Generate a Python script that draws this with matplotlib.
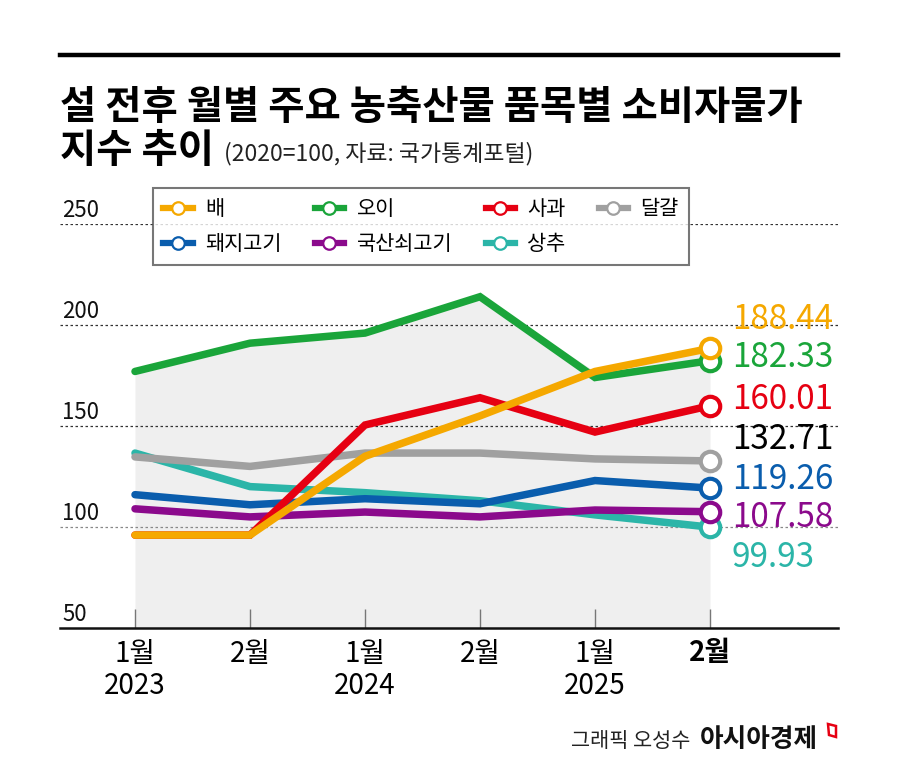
import numpy as np
import matplotlib
matplotlib.use('Agg')
import matplotlib.pyplot as plt
from matplotlib.lines import Line2D
from matplotlib.patches import Polygon
from matplotlib.legend_handler import HandlerLine2D

FONT_KR = ['Noto Sans CJK KR', 'DejaVu Sans']

# data
months = ['1월\n2023', '2월', '1월\n2024', '2월', '1월\n2025', '2월']
pear = [96, 96, 135, 155, 177, 188.44]
cucumber = [177, 191, 196, 214, 174, 182.33]
apple = [96, 96, 150.5, 164, 147, 160.01]
egg = [134.7, 130, 136.6, 136.6, 133.7, 132.71]
pork = [116, 111, 114, 111.5, 123, 119.26]
beef = [109, 105, 107.4, 105, 108.4, 107.58]
lettuce = [136.6, 120, 117, 113, 106, 99.93]

names = ['배', '오이', '사과', '달걀', '돼지고기', '국산쇠고기', '상추']
series = [pear, cucumber, apple, egg, pork, beef, lettuce]
colors = ['#F5A800', '#1AA53A', '#E60012', '#A0A0A0', '#0A5DAD', '#8B0A8C', '#2BB5A8']
label_colors = ['#F5A800', '#1AA53A', '#E60012', '#000000', '#0A5DAD', '#8B0A8C', '#2BB5A8']
label_y = [202.5, 183.7, 162.9, 143.1, 123.3, 104.5, 84.7]
# bottom -> top drawing order
draw_order = ['상추', '국산쇠고기', '돼지고기', '달걀', '사과', '오이', '배']
yticks = [50, 100, 150, 200, 250]


class EndMarkerHandler(HandlerLine2D):
    """Legend handle: short line with the marker sitting at its right end."""
    def get_xdata(self, legend, xdescent, ydescent, width, height, fontsize):
        xdata = np.array([-xdescent, -xdescent + width])
        return xdata, np.array([-xdescent + width])


fig = plt.figure(figsize=(9, 7.76), dpi=100)
ax = fig.add_axes([60 / 900, 1 - 628 / 776, 778 / 900, 404 / 776])
x = np.arange(len(months))
x0 = -75 / 115
ax.set_xlim(x0, 703 / 115)
ax.set_ylim(50, 250)

# shaded area under the upper envelope
envelope = np.max(np.array(series), axis=0)
ax.fill_between(x, 50, envelope, color='#efefef', lw=0, zorder=0)

# dotted gridlines + y labels sitting on them
for v in yticks:
    if v > 50:
        c = '#888888' if v == 100 else '#333333'
        ax.axhline(v, color=c, lw=0.9, ls=(0, (2, 2)), zorder=1)
    ax.text(x0 + 0.02, v + 3.5, str(v), ha='left', va='baseline',
            fontsize=16, family=FONT_KR, color='#111111')

handles = {}
for name in draw_order:
    i = names.index(name)
    z = 3 + draw_order.index(name)
    ax.plot(x, series[i], color=colors[i], lw=5.4, solid_joinstyle='miter',
            solid_capstyle='round', zorder=z)
    ax.plot(x[-1], series[i][-1], 'o', ms=14, mfc='white', mec=colors[i],
            mew=3, zorder=z)
    handles[name] = Line2D([], [], color=colors[i], lw=4.5, marker='o', ms=9,
                           mfc='white', mec=colors[i], mew=1.6)

# value labels at the right
for i, name in enumerate(names):
    ax.text(5.19, label_y[i], f'{series[i][-1]:.2f}', ha='left', va='center',
            fontsize=24, family=FONT_KR, color=label_colors[i])

# axes styling
for s in ['top', 'right', 'left']:
    ax.spines[s].set_visible(False)
ax.spines['bottom'].set_linewidth(1.8)
ax.spines['bottom'].set_color('#111111')
ax.set_yticks([])
ax.set_xticks(x)
ax.set_xticklabels(months, family=FONT_KR, fontsize=20, linespacing=1.1)
ax.tick_params(axis='x', direction='in', length=14, width=1, color='#777777', pad=8)
ax.get_xticklabels()[-1].set_fontweight('bold')

# legend
leg_order = ['배', '돼지고기', '오이', '국산쇠고기', '사과', '상추', '달걀']
leg = fig.legend([handles[n] for n in leg_order], leg_order, ncol=4,
                 loc='upper left', bbox_to_anchor=(153 / 900, 1 - 188 / 776),
                 prop={'family': FONT_KR, 'size': 15}, frameon=True,
                 fancybox=False, edgecolor='#555555', handlelength=1.4,
                 handletextpad=0.6, columnspacing=1.6, labelspacing=0.6,
                 borderpad=0.5, borderaxespad=0,
                 handler_map={Line2D: EndMarkerHandler()})
leg.get_frame().set_linewidth(1.5)

# title area
fig.add_artist(Line2D([60 / 900, 838 / 900], [1 - 55 / 776] * 2, lw=3.2, color='black'))
fig.text(60 / 900, 1 - 119 / 776, '설 전후 월별 주요 농축산물 품목별 소비자물가',
         fontsize=28.4, fontweight='heavy', family=FONT_KR, va='baseline')
t2 = fig.text(60 / 900, 1 - 162 / 776, '지수 추이', fontsize=28.4, fontweight='heavy',
              family=FONT_KR, va='baseline')
fig.canvas.draw()
bb = t2.get_window_extent()
fig.text((bb.x1 + 10) / 900, 1 - 160 / 776, '(2020=100, 자료: 국가통계포털)',
         fontsize=16.5, family=FONT_KR, va='baseline', color='#222222')

# footer
fig.text(690 / 900, 1 - 747 / 776, '그래픽 오성수', fontsize=15, family=FONT_KR,
         ha='right', va='baseline', color='#222222')
fig.text(700 / 900, 1 - 747 / 776, '아시아경제', fontsize=18.5, fontweight='bold',
         family=FONT_KR, ha='left', va='baseline', color='#111111')
mark = Polygon([(828 / 900, 1 - 724 / 776), (836 / 900, 1 - 726 / 776),
                (836 / 900, 1 - 737 / 776), (829 / 900, 1 - 735 / 776)],
               closed=True, fill=False, edgecolor='#E60012', lw=1.8,
               transform=fig.transFigure)
fig.add_artist(mark)

fig.savefig('out.png', dpi=100, facecolor='white')
